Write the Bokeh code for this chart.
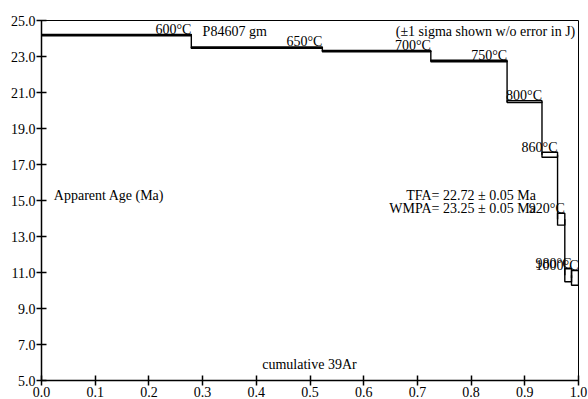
from bokeh.plotting import figure
from bokeh.models import Range1d, PrintfTickFormatter, FixedTicker, ColumnDataSource, Label
from bokeh.embed import file_html
from bokeh.resources import INLINE
from bokeh.core.properties import value

# Step-heating results for sample P84607 groundmass
steps = ["600°C", "650°C", "700°C", "750°C", "800°C", "860°C", "920°C", "980°C", "1000°C"]
cum_left = [0.0, 0.279, 0.523, 0.725, 0.867, 0.932, 0.961, 0.9745, 0.987]
cum_right = [0.279, 0.523, 0.725, 0.867, 0.932, 0.961, 0.9745, 0.987, 1.0]
ages = [24.19, 23.49, 23.30, 22.75, 20.49, 17.54, 13.96, 10.85, 10.70]
errs = [0.04, 0.04, 0.04, 0.04, 0.05, 0.14, 0.33, 0.36, 0.41]

tfa, tfa_err = 22.72, 0.05
wmpa, wmpa_err = 23.25, 0.05

x_ticks = [0.0, 0.1, 0.2, 0.3, 0.4, 0.5, 0.6, 0.7, 0.8, 0.9, 1.0]
y_ticks = [5.0, 7.0, 9.0, 11.0, 13.0, 15.0, 17.0, 19.0, 21.0, 23.0, 25.0]

FONT = "Liberation Serif"
FS = "14px"

p = figure(width=588, height=399, output_backend="svg", toolbar_location=None,
           x_range=Range1d(0, 1), y_range=Range1d(5, 25),
           min_border_left=41, min_border_right=10, min_border_top=20, min_border_bottom=0)
p.background_fill_color = "white"
p.border_fill_color = "white"
p.outline_line_color = "black"
p.outline_line_width = 1
p.xgrid.visible = False
p.ygrid.visible = False

for ax, ticks in ((p.xaxis, x_ticks), (p.yaxis, y_ticks)):
    ax.ticker = FixedTicker(ticks=ticks)
    ax.formatter = PrintfTickFormatter(format="%.1f")
    ax.major_tick_in = 5
    ax.major_tick_out = 5
    ax.minor_tick_line_color = None
    ax.major_tick_line_color = "black"
    ax.major_tick_line_width = 1.5
    ax.axis_line_color = "black"
    ax.axis_line_width = 1.5
    ax.major_label_text_font = FONT
    ax.major_label_text_font_size = FS
    ax.major_label_text_color = "black"
    ax.major_label_standoff = 1

src = ColumnDataSource(dict(
    left=cum_left, right=cum_right,
    bottom=[a - e for a, e in zip(ages, errs)],
    top=[a + e for a, e in zip(ages, errs)],
    label=steps,
))

# error boxes for each heating step
p.quad(left="left", right="right", bottom="bottom", top="top", source=src,
       fill_color=None, line_color="black", line_width=1.4)

# vertical risers joining consecutive steps
p.segment(x0=cum_right[:-1], y0=ages[:-1], x1=cum_left[1:], y1=ages[1:],
          line_color="black", line_width=1.4)

# temperature labels above each step
p.text(x="right", y="top", text="label", source=src,
       text_font=value(FONT), text_font_size=value(FS), text_color="black",
       text_align="right", text_baseline="alphabetic", y_offset=-5)

def add_label(x, y, text, align="left"):
    p.add_layout(Label(x=x, y=y, text=text, text_font=FONT, text_font_size=FS,
                       text_color="black", text_align=align, text_baseline="alphabetic",
                       y_offset=4))

add_label(0.300, 24.14, "P84607 gm")
add_label(0.994, 24.14, "(±1 sigma shown w/o error in J)", "right")
add_label(0.023, 15.03, "Apparent Age (Ma)")
add_label(0.9206, 15.03, f"TFA= {tfa:.2f} ± {tfa_err:.2f} Ma", "right")
add_label(0.9206, 14.34, f"WMPA= {wmpa:.2f} ± {wmpa_err:.2f} Ma", "right")
add_label(0.411, 5.68, "cumulative 39Ar")

open("out.html", "w").write(file_html(p, INLINE))
